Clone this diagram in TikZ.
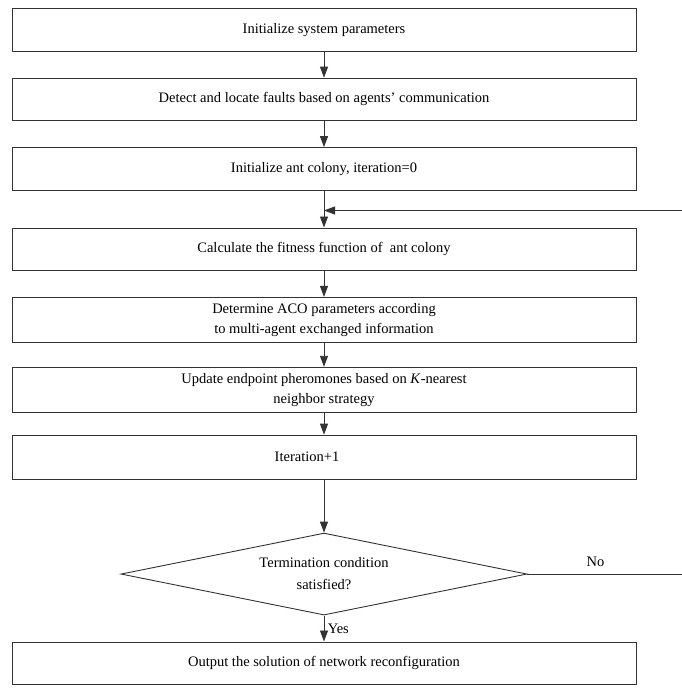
\documentclass[tikz,border=0pt]{standalone}
\usepackage{fontspec}
\setmainfont{Liberation Serif}
\usetikzlibrary{shapes.geometric, arrows.meta, positioning}
\tikzset{
  process/.style={rectangle, minimum width=624pt, minimum height=42.5pt, align=center, draw=black!80, line width=0.9pt, text=black, font=\fontsize{14.5}{20}\selectfont},
  decision/.style={diamond, aspect=4.95, minimum width=406pt, minimum height=82pt, inner sep=0pt, align=center, draw=black!80, line width=0.9pt, text=black, font=\fontsize{14.5}{22}\selectfont},
  arrow/.style={line width=0.9pt, draw=black!80, -{Triangle[length=11pt,width=8pt]}},
  lbl/.style={text=black, font=\fontsize{14.5}{20}\selectfont}
}

\begin{document}
\begin{tikzpicture}[x=1pt, y=1pt, node distance=26pt]
  \useasboundingbox (0,0) rectangle (682,-689);

  \node (init) [process] at (324,-30) {Initialize system parameters};
  \node (detect) [process, below=of init] {Detect and locate faults based on agents' communication};
  \node (colony) [process, below=of detect] {Initialize ant colony, iteration=0};
  \node (fitness) [process, below=37pt of colony] {Calculate the fitness function of\ \ ant colony};
  \node (aco) [process, minimum height=45pt, below=of fitness] {Determine ACO parameters according\\to multi-agent exchanged information};
  \node (update) [process, minimum height=45pt, below=24pt of aco] {Update endpoint pheromones based on \textit{K}-nearest\\neighbor strategy};
  \node (iter) [process, minimum height=44pt, below=22pt of update] {Iteration+1\hspace*{34pt}};
  \node (term) [decision, below=53pt of iter] {Termination condition\\satisfied?};
  \node (output) [process, below=26pt of term] {Output the solution of network reconfiguration};
  \coordinate [below=20pt of colony] (loop);

  \draw [arrow] (init) -- (detect);
  \draw [arrow] (detect) -- (colony);
  \draw [arrow] (colony) -- (fitness);
  \draw [arrow] (fitness) -- (aco);
  \draw [arrow] (aco) -- (update);
  \draw [arrow] (update) -- (iter);
  \draw [arrow] (iter) -- (term);
  \draw [arrow] (term) -- node[lbl, right] {Yes} (output);
  \draw [arrow] (term.east) -- node[lbl, above, pos=0.43, yshift=4pt] {No} ++(158,0) |- (loop);

\end{tikzpicture}
\end{document}
